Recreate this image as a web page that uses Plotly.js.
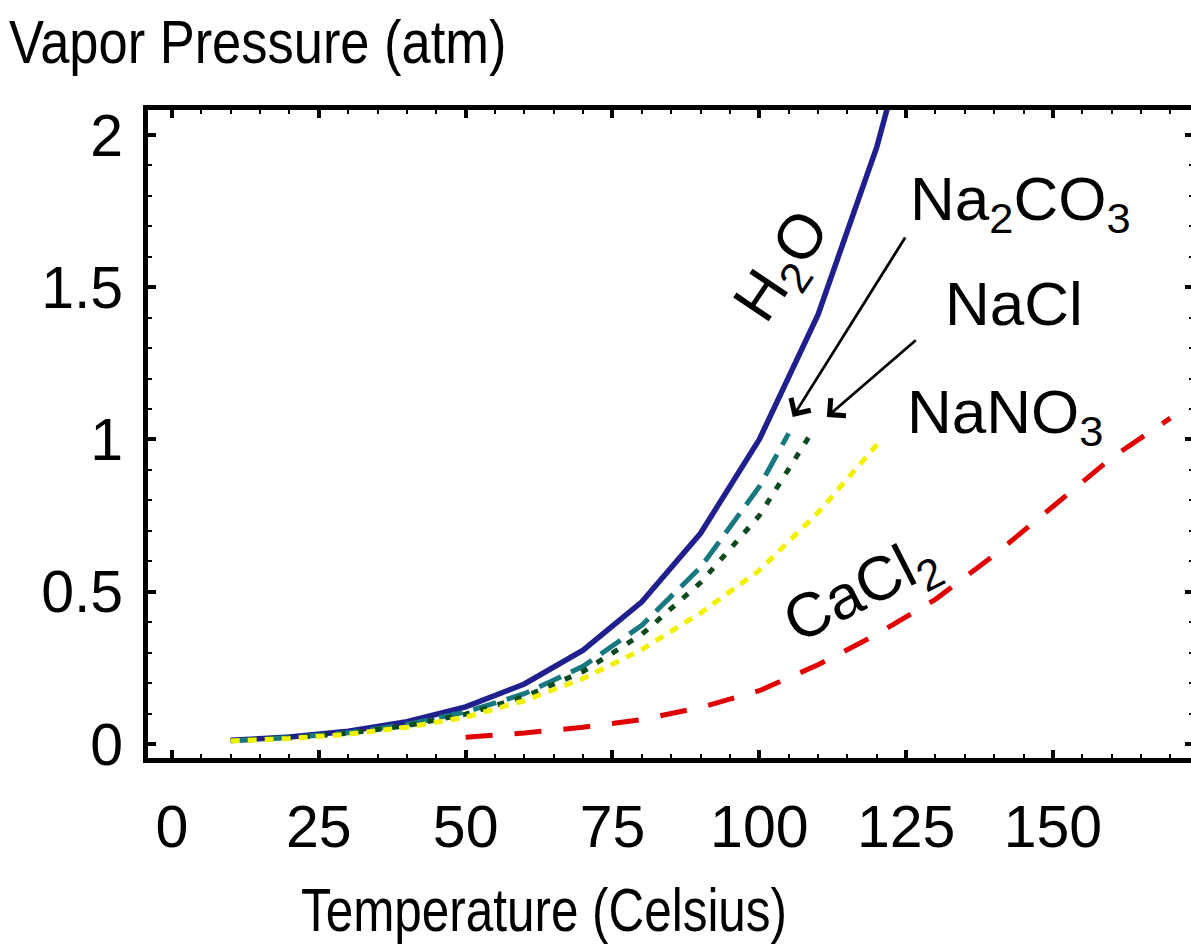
<!DOCTYPE html>
<html>
<head>
<meta charset="utf-8">
<script src="https://cdn.plot.ly/plotly-3.0.1.min.js"></script>
<style>
html, body { margin:0; padding:0; overflow:hidden; background:#fff; }
#chart { width:1200px; height:950px; }
</style>
</head>
<body>
<div id="chart"></div>
<script>
// ---- data ----
const h2oTemp   = [10, 20, 30, 40, 50, 60, 70, 80, 90, 100, 110, 120, 130];
const h2oVP     = [0.012, 0.023, 0.042, 0.073, 0.122, 0.197, 0.308, 0.467, 0.692, 1.0, 1.41, 1.96, 2.67];

const na2co3Temp = [10, 20, 30, 40, 50, 60, 70, 80, 90, 100, 105];
const na2co3VP   = [0.011, 0.021, 0.037, 0.064, 0.105, 0.165, 0.255, 0.39, 0.58, 0.845, 1.02];

const naclTemp = [10, 20, 30, 40, 50, 60, 70, 80, 90, 100, 108.5];
const naclVP   = [0.011, 0.020, 0.035, 0.060, 0.098, 0.155, 0.238, 0.36, 0.53, 0.75, 1.01];

const nano3Temp = [10, 20, 30, 40, 50, 60, 70, 80, 90, 100, 110, 120.8];
const nano3VP   = [0.010, 0.018, 0.032, 0.055, 0.088, 0.142, 0.215, 0.31, 0.43, 0.57, 0.76, 1.0];

const cacl2Temp = [50, 60, 70, 80, 90, 100, 110, 120, 130, 140, 150, 160, 170];
const cacl2VP   = [0.022, 0.036, 0.055, 0.08, 0.12, 0.175, 0.26, 0.36, 0.475, 0.62, 0.78, 0.94, 1.07];

const xTickStep = 25, xMinorStep = 5;
const yTickStep = 0.5, yMinorStep = 0.1;

const xTitle = 'Temperature (Celsius)';
const yTitle = 'Vapor Pressure (atm)';

// ---- layout helpers (pixel -> paper) ----
const L = 148, T = 110, W = 1045, H = 648;
const px = v => (v - L) / W;
const py = v => (T + H - v) / H;

const FONT = 'Liberation Sans, Arial, Helvetica, sans-serif';

const traces = [
  {x: h2oTemp, y: h2oVP, mode: 'lines', line: {color: '#1f1f8e', width: 5.5}, name: 'H2O'},
  {x: na2co3Temp, y: na2co3VP, mode: 'lines', line: {color: '#18787f', width: 5, dash: '24px,11px'}, name: 'Na2CO3'},
  {x: naclTemp, y: naclVP, mode: 'lines', line: {color: '#0b4a1d', width: 5, dash: '7px,11px'}, name: 'NaCl'},
  {x: nano3Temp, y: nano3VP, mode: 'lines', line: {color: '#f2f200', width: 5, dash: '9px,8px'}, name: 'NaNO3'},
  {x: cacl2Temp, y: cacl2VP, mode: 'lines', line: {color: '#e00000', width: 5, dash: '27px,22px'}, name: 'CaCl2'}
];

const axisCommon = {
  showline: true, linewidth: 5, linecolor: '#000', mirror: 'ticks',
  ticks: 'inside', ticklen: 8, tickwidth: 4, tickcolor: '#000',
  showgrid: false, zeroline: false,
  tickfont: {family: FONT, size: 59, color: '#000'}
};

const labelFont = {family: FONT, size: 62, color: '#000'};
const titleFont = {family: FONT, size: 61, color: '#000'};

const layout = {
  width: 1200, height: 950,
  margin: {l: L, r: 1200 - L - W, t: T, b: 950 - T - H, pad: 0},
  paper_bgcolor: '#fff', plot_bgcolor: '#fff',
  showlegend: false,
  xaxis: Object.assign({}, axisCommon, {
    range: [-4.09, 173.85], tick0: 0, dtick: xTickStep,
    ticklabelstandoff: 13,
    minor: {dtick: xMinorStep, tick0: 0, ticks: 'inside', ticklen: 4, tickwidth: 2, tickcolor: '#000', showgrid: false}
  }),
  yaxis: Object.assign({}, axisCommon, {
    range: [-0.046, 2.082], tick0: 0, dtick: yTickStep,
    ticklabelstandoff: 8,
    minor: {dtick: yMinorStep, tick0: 0, ticks: 'inside', ticklen: 4, tickwidth: 2, tickcolor: '#000', showgrid: false}
  }),
  annotations: [
    {text: yTitle, xref: 'paper', yref: 'paper', x: px(7), y: py(42), xanchor: 'left', yanchor: 'middle',
     showarrow: false, font: titleFont},
    {text: xTitle, xref: 'paper', yref: 'paper', x: px(544), y: py(910), xanchor: 'center', yanchor: 'middle',
     showarrow: false, font: titleFont},
    {text: 'H<sub>2</sub>O', xref: 'paper', yref: 'paper', x: px(784), y: py(268), xanchor: 'center', yanchor: 'middle',
     textangle: -56, showarrow: false, font: labelFont},
    {text: 'Na<sub>2</sub>CO<sub>3</sub>', xref: 'paper', yref: 'paper', x: px(1020), y: py(203), xanchor: 'center', yanchor: 'middle',
     showarrow: false, font: labelFont},
    {text: 'NaCl', xref: 'paper', yref: 'paper', x: px(1014), y: py(303), xanchor: 'center', yanchor: 'middle',
     showarrow: false, font: labelFont},
    {text: 'NaNO<sub>3</sub>', xref: 'paper', yref: 'paper', x: px(1005), y: py(416), xanchor: 'center', yanchor: 'middle',
     showarrow: false, font: labelFont},
    {text: 'CaCl<sub>2</sub>', xref: 'paper', yref: 'paper', x: px(862), y: py(592), xanchor: 'center', yanchor: 'middle',
     textangle: -27, showarrow: false, font: labelFont},
    // arrows
    {text: '', xref: 'x', yref: 'y', axref: 'x', ayref: 'y',
     x: 105.7, y: 1.074, ax: 125.0, ay: 1.668,
     showarrow: true, arrowhead: 4, arrowsize: 1.6, arrowwidth: 2.8, arrowcolor: '#000', standoff: 0},
    {text: '', xref: 'x', yref: 'y', axref: 'x', ayref: 'y',
     x: 111.5, y: 1.074, ax: 126.9, ay: 1.33,
     showarrow: true, arrowhead: 4, arrowsize: 1.6, arrowwidth: 2.8, arrowcolor: '#000', standoff: 0}
  ]
};

const gd = document.getElementById('chart');
Plotly.newPlot(gd, traces, layout, {displayModeBar: false, staticPlot: true}).then(() => {
  // the reference's axis titles use a slightly condensed face: narrow them horizontally
  [[0, 0.86, 'left'], [1, 0.81, 'center']].forEach(([idx, s, anchor]) => {
    const t = gd.querySelector('.annotation[data-index="' + idx + '"] text.annotation-text');
    if (!t) return;
    const bb = t.getBBox();
    const ox = anchor === 'left' ? bb.x : bb.x + bb.width / 2;
    t.setAttribute('transform', 'translate(' + ox + ',0) scale(' + s + ',1) translate(' + (-ox) + ',0)');
  });
});
</script>
</body>
</html>
